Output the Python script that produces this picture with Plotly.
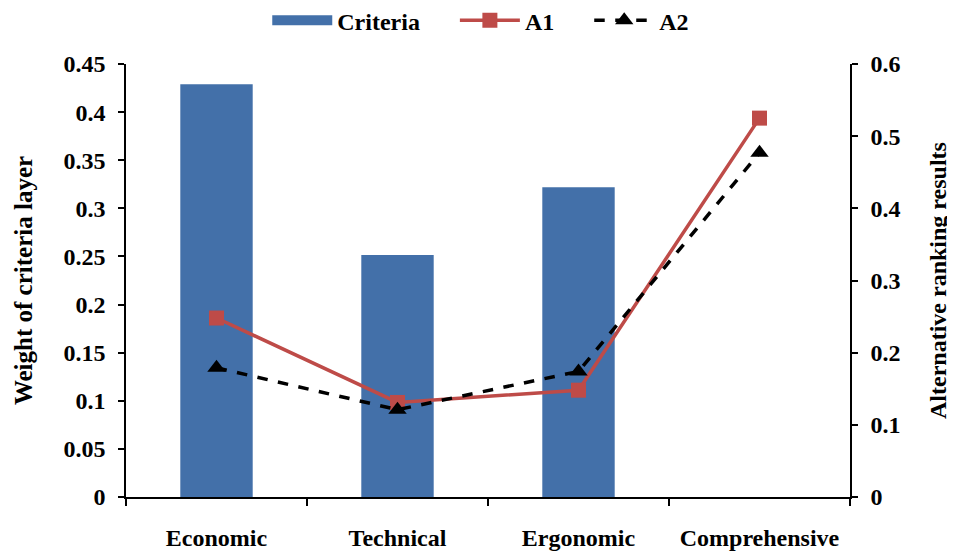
import plotly.graph_objects as go

categories = ["Economic", "Technical", "Ergonomic", "Comprehensive"]
criteria = [0.429, 0.2515, 0.322, None]
a1 = [0.248, 0.131, 0.148, 0.525]
a2 = [0.179, 0.121, 0.174, 0.477]

font_family = "Liberation Serif"
bar_color = "#4370A9"

fig = go.Figure()
fig.add_trace(go.Bar(x=categories, y=criteria, name="Criteria", showlegend=False,
                     marker=dict(color=bar_color, line=dict(width=0)), yaxis="y"))
# legend entry for bars drawn as a wide swatch
fig.add_trace(go.Scatter(x=[None], y=[None], name="Criteria     ", mode="lines",
                         line=dict(color=bar_color, width=14), yaxis="y"))
fig.add_trace(go.Scatter(x=categories, y=a1, name="A1     ", mode="lines+markers",
                         line=dict(color="#BE4B48", width=3.5),
                         marker=dict(symbol="square", size=15, color="#BE4B48"),
                         yaxis="y2"))
fig.add_trace(go.Scatter(x=categories, y=a2, name="A2", mode="lines+markers",
                         line=dict(color="black", width=3.5, dash="dash"),
                         marker=dict(symbol="triangle-up", size=16, color="black"),
                         yaxis="y2"))

bold = dict(family=font_family, weight="bold", color="black")

fig.update_layout(
    width=955, height=552,
    margin=dict(l=118, r=113, t=56, b=63, autoexpand=False),
    plot_bgcolor="white", paper_bgcolor="white",
    font=dict(size=24, **bold),
    bargap=0.6,
    showlegend=True,
    legend=dict(orientation="h", x=0.49, xanchor="center", y=0.977, yanchor="middle",
                yref="container",
                font=dict(size=24, **bold),
                itemwidth=60),
    xaxis=dict(type="category", tickson="boundaries", ticks="outside", ticklen=7,
               tickwidth=1.5, tickcolor="black", showline=True, linecolor="black",
               linewidth=1.5, showgrid=False, tickfont=dict(size=24, **bold),
               ticklabelstandoff=18, range=[-0.5, 3.5]),
    yaxis=dict(range=[0, 0.45], dtick=0.05, ticks="outside", ticklen=6, tickwidth=1.5,
               tickcolor="black", showline=True, linecolor="black", linewidth=1.5,
               showgrid=False, zeroline=False, tickformat="~g",
               tickfont=dict(size=24, **bold), ticklabelstandoff=8,
               title=dict(text="Weight of criteria layer", font=dict(size=25, **bold),
                          standoff=24)),
    yaxis2=dict(range=[0, 0.6], dtick=0.1, overlaying="y", side="right", ticks="outside",
                ticklen=6, tickwidth=1.5, tickcolor="black", showline=True,
                linecolor="black", linewidth=1.5, showgrid=False, zeroline=False,
                tickformat="~g", tickfont=dict(size=24, **bold), ticklabelstandoff=8,
                title=dict(text="Alternative ranking results", font=dict(size=24, **bold),
                           standoff=30)),
)

fig.write_html("out.html")
